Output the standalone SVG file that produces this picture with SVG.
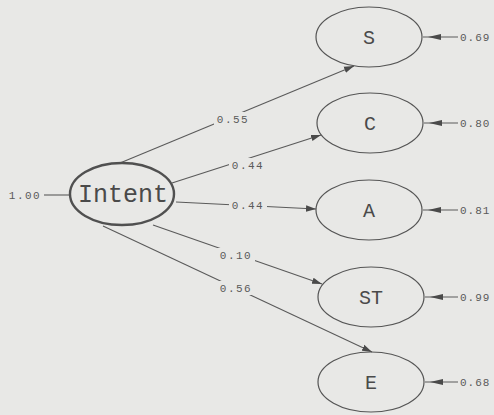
<svg xmlns="http://www.w3.org/2000/svg" width="494" height="415" viewBox="0 0 494 415">
  <style>
    .bg { fill: #e8e8e6; }
    .node ellipse { fill: none; stroke: #555; stroke-width: 1.2; }
    #intent ellipse { stroke-width: 2.4; stroke: #505050; }
    .lbl { font-family: "Liberation Mono", "DejaVu Sans Mono", monospace; fill: #4a4a4a; text-anchor: middle; font-size: 20px; }
    #intent .lbl { font-size: 25px; }
    .edge { stroke: #5a5a5a; stroke-width: 1.1; fill: none; }
    .gap { fill: #e8e8e6; }
    .coef { font-family: "Liberation Mono", "DejaVu Sans Mono", monospace; font-size: 11px; letter-spacing: 1.5px; fill: #5a5a5a; text-anchor: middle; }
    .err { font-family: "Liberation Mono", "DejaVu Sans Mono", monospace; font-size: 11px; letter-spacing: 1px; fill: #5a5a5a; }
    .head { fill: #4a4a4a; }
  </style>
  <defs>
    <marker id="arr" viewBox="0 0 10 8" refX="10" refY="4" markerWidth="10" markerHeight="8" markerUnits="userSpaceOnUse" orient="auto">
      <path d="M0,0.8 L10,4 L0,7.2 z" fill="#4a4a4a"/>
    </marker>
  </defs>

  <rect class="bg" x="0" y="0" width="494" height="415"/>

  <!-- connectors: loadings from Intent, error terms, fixed variance -->
  <g id="connectors">
    <line class="edge" x1="44" y1="195" x2="70" y2="195"/>
    <line class="edge" x1="120" y1="163" x2="354" y2="66" marker-end="url(#arr)"/>
    <line class="edge" x1="172" y1="183" x2="321" y2="135" marker-end="url(#arr)"/>
    <line class="edge" x1="176" y1="202" x2="316" y2="209" marker-end="url(#arr)"/>
    <line class="edge" x1="153" y1="225" x2="322" y2="284" marker-end="url(#arr)"/>
    <line class="edge" x1="103" y1="226" x2="372" y2="352" marker-end="url(#arr)"/>

    <!-- coefficient labels break the lines they sit on -->
    <rect class="gap" x="214" y="112" width="38" height="14"/>
    <rect class="gap" x="229" y="158" width="38" height="14"/>
    <rect class="gap" x="229" y="199" width="38" height="12"/>
    <rect class="gap" x="217" y="248" width="38" height="14"/>
    <rect class="gap" x="217" y="281" width="38" height="14"/>

    <text class="coef" x="25" y="199">1.00</text>
    <text class="coef" x="233" y="123">0.55</text>
    <text class="coef" x="248" y="169">0.44</text>
    <text class="coef" x="248" y="209">0.44</text>
    <text class="coef" x="236" y="259">0.10</text>
    <text class="coef" x="236" y="292">0.56</text>

    <!-- error arrows -->
    <g>
      <line class="edge" x1="423" y1="37" x2="458" y2="37"/>
      <path class="head" d="M428,37 L441,34 L441,40 z"/>
      <text class="err" x="460" y="41">0.69</text>
    </g>
    <g>
      <line class="edge" x1="424" y1="123" x2="458" y2="123"/>
      <path class="head" d="M429,123 L442,120 L442,126 z"/>
      <text class="err" x="460" y="127">0.80</text>
    </g>
    <g>
      <line class="edge" x1="423" y1="210" x2="458" y2="210"/>
      <path class="head" d="M428,210 L441,207 L441,213 z"/>
      <text class="err" x="460" y="214">0.81</text>
    </g>
    <g>
      <line class="edge" x1="425" y1="297" x2="458" y2="297"/>
      <path class="head" d="M430,297 L443,294 L443,300 z"/>
      <text class="err" x="460" y="301">0.99</text>
    </g>
    <g>
      <line class="edge" x1="425" y1="382" x2="458" y2="382"/>
      <path class="head" d="M430,382 L443,379 L443,385 z"/>
      <text class="err" x="460" y="386">0.68</text>
    </g>
  </g>

  <g id="intent" class="node">
    <ellipse cx="122" cy="194" rx="52" ry="31"/>
    <text class="lbl" x="123" y="202">Intent</text>
  </g>
  <g id="S" class="node">
    <ellipse cx="369" cy="37" rx="53" ry="30"/>
    <text class="lbl" x="369" y="44">S</text>
  </g>
  <g id="C" class="node">
    <ellipse cx="370" cy="123" rx="53" ry="30"/>
    <text class="lbl" x="370" y="130">C</text>
  </g>
  <g id="A" class="node">
    <ellipse cx="369" cy="210" rx="53" ry="30"/>
    <text class="lbl" x="369" y="217">A</text>
  </g>
  <g id="ST" class="node">
    <ellipse cx="371" cy="297" rx="53" ry="30"/>
    <text class="lbl" x="371" y="304">ST</text>
  </g>
  <g id="E" class="node">
    <ellipse cx="371" cy="382" rx="53" ry="30"/>
    <text class="lbl" x="371" y="389">E</text>
  </g>
</svg>
